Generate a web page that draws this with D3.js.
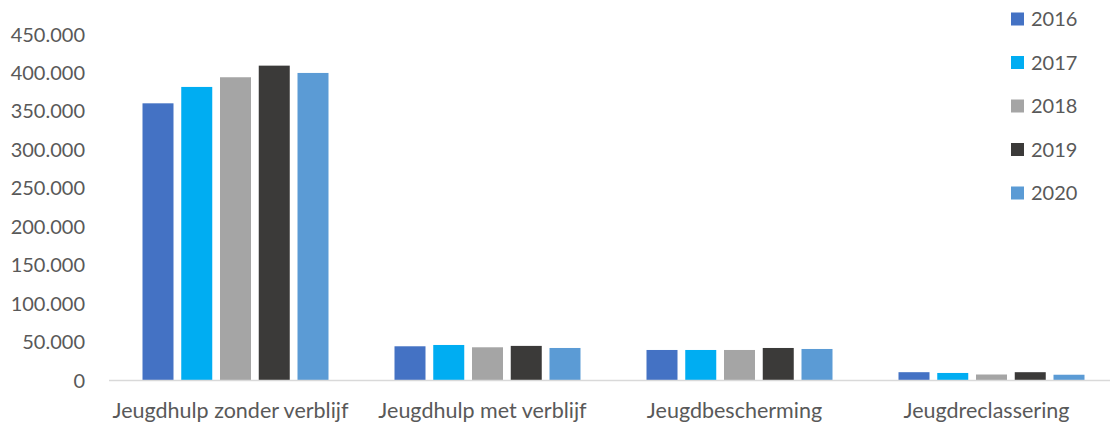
<!DOCTYPE html>
<html lang="nl">
<head>
    <meta charset="UTF-8">
    <title>Jeugdzorg</title>
    <script src="https://d3js.org/d3.v7.min.js"></script>
    <style>
        body { margin: 0; background: white; }
        text { font-family: Lato, "Open Sans", sans-serif; fill: #595959; }
    </style>
</head>
<body>
    <script>
        var categories = ["Jeugdhulp zonder verblijf", "Jeugdhulp met verblijf", "Jeugdbescherming", "Jeugdreclassering"];
        var years = ["2016", "2017", "2018", "2019", "2020"];
        var colors = ["#4472c4", "#00adf2", "#a5a5a5", "#3b3a39", "#5b9bd5"];
        var v2016 = [360500, 44500, 39700, 10800];
        var v2017 = [381800, 46200, 39700, 9800];
        var v2018 = [394400, 43200, 39700, 7800];
        var v2019 = [409500, 45000, 42300, 10800];
        var v2020 = [400000, 42300, 41000, 7500];
        var series = [v2016, v2017, v2018, v2019, v2020];
        var yTicks = [0, 50000, 100000, 150000, 200000, 250000, 300000, 350000, 400000, 450000];

        var width = 1113, height = 424;
        var svg = d3.select("body").append("svg")
            .attr("width", width)
            .attr("height", height);

        var x0 = d3.scaleBand().domain(categories).range([109.5, 1117.5]);
        var x1 = d3.scaleBand().domain(years).range([33, 219]).paddingInner(0.2);
        var y = d3.scaleLinear().domain([0, 450000]).range([380.5, 34.5]);

        var fmt = function(d) { return d3.format(",")(d).replace(/,/g, "."); };

        // y labels
        svg.selectAll(".ylab")
            .data(yTicks)
            .enter().append("text")
            .attr("x", 85)
            .attr("y", function(d) { return y(d); })
            .attr("dy", "0.35em")
            .attr("text-anchor", "end")
            .style("font-size", "20px")
            .text(fmt);

        // bars
        categories.forEach(function(c, ci) {
            svg.selectAll(".bar" + ci)
                .data(years)
                .enter().append("rect")
                .attr("x", function(yr) { return x0(c) + x1(yr); })
                .attr("width", x1.bandwidth())
                .attr("y", function(yr, i) { return y(series[i][ci]); })
                .attr("height", function(yr, i) { return y(0) - y(series[i][ci]); })
                .style("fill", function(yr, i) { return colors[i]; });
        });

        // axis line
        svg.append("line")
            .attr("x1", 109).attr("x2", 1110)
            .attr("y1", y(0)).attr("y2", y(0))
            .style("stroke", "#d9d9d9")
            .style("stroke-width", 1.5);

        // category labels
        svg.selectAll(".xlab")
            .data(categories)
            .enter().append("text")
            .attr("x", function(d) { return x0(d) + x0.bandwidth() / 2 - 5; })
            .attr("y", 418)
            .attr("text-anchor", "middle")
            .style("font-size", "21.5px")
            .text(function(d) { return d; });

        // legend
        var legend = svg.selectAll(".leg")
            .data(years)
            .enter().append("g")
            .attr("transform", function(d, i) { return "translate(1011," + (19 + i * 43.5) + ")"; });
        legend.append("rect")
            .attr("x", 0).attr("y", -6.5)
            .attr("width", 13).attr("height", 13)
            .style("fill", function(d, i) { return colors[i]; });
        legend.append("text")
            .attr("x", 20)
            .attr("dy", "0.35em")
            .style("font-size", "20px")
            .text(function(d) { return d; });
    </script>
</body>
</html>
